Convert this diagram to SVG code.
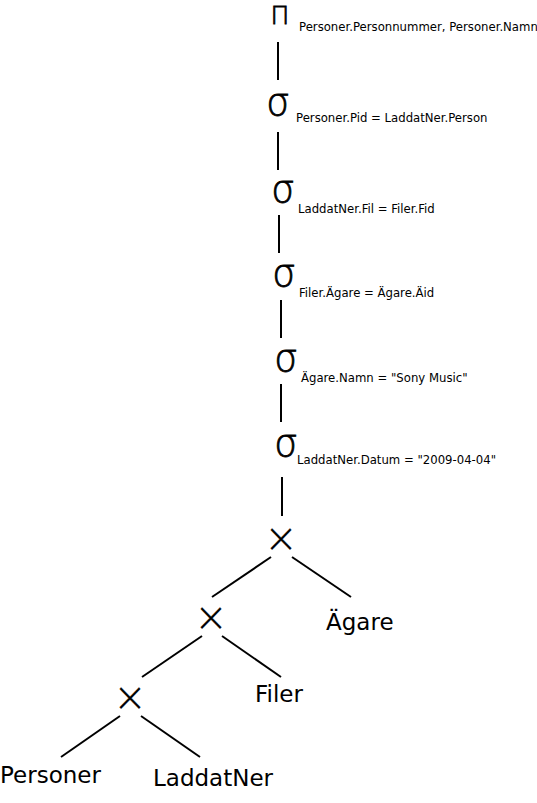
<svg xmlns="http://www.w3.org/2000/svg" width="537" height="803" viewBox="0 0 537 803">
<style>
.op{font-family:"DejaVu Sans",sans-serif;fill:#000;stroke:#000;stroke-width:0.8;text-anchor:middle;font-weight:200}
.sig{font-size:37px}
.pi{font-size:25px}
.x{font-size:40px;stroke-width:0.2}
.lbl{font-family:"DejaVu Sans",sans-serif;font-size:11.7px;fill:#000}
.rel{font-family:"DejaVu Sans",sans-serif;font-size:23px;fill:#000}
.c line{stroke:#000;stroke-width:2;fill:none}
</style>
<rect width="537" height="803" fill="#fff"/>
<g class="c" id="connectors">
<line x1="278" y1="42" x2="278" y2="80"/>
<line x1="278" y1="132" x2="278" y2="170"/>
<line x1="279" y1="215" x2="279" y2="253"/>
<line x1="281" y1="300" x2="281" y2="338"/>
<line x1="281" y1="384" x2="281" y2="422"/>
<line x1="282" y1="477" x2="282" y2="516"/>
<line x1="271" y1="557" x2="212" y2="597"/>
<line x1="292" y1="557" x2="351" y2="597"/>
<line x1="202" y1="636" x2="142" y2="677"/>
<line x1="222" y1="636" x2="281" y2="677"/>
<line x1="120" y1="716" x2="61" y2="757"/>
<line x1="141" y1="716" x2="200" y2="757"/>
</g>
<g id="pi"><text class="op pi" x="280" y="23.5">Π</text><text class="lbl" x="299" y="31">Personer.Personnummer, Personer.Namn</text></g>
<g id="sigma1"><text class="op sig" x="278" y="115">σ</text><text class="lbl" x="296" y="122">Personer.Pid = LaddatNer.Person</text></g>
<g id="sigma2"><text class="op sig" x="283" y="202">σ</text><text class="lbl" x="298" y="213">LaddatNer.Fil = Filer.Fid</text></g>
<g id="sigma3"><text class="op sig" x="284" y="286">σ</text><text class="lbl" x="299" y="297">Filer.Ägare = Ägare.Äid</text></g>
<g id="sigma4"><text class="op sig" x="286" y="371">σ</text><text class="lbl" x="301" y="382">Ägare.Namn = "Sony Music"</text></g>
<g id="sigma5"><text class="op sig" x="286" y="456">σ</text><text class="lbl" x="297" y="464">LaddatNer.Datum = "2009-04-04"</text></g>
<g id="join1"><text class="op x" x="281" y="552">×</text></g>
<g id="join2"><text class="op x" x="211" y="631">×</text></g>
<g id="join3"><text class="op x" x="130" y="711">×</text></g>
<g id="agare"><text class="rel" x="326" y="630">Ägare</text></g>
<g id="filer"><text class="rel" x="255" y="702">Filer</text></g>
<g id="personer"><text class="rel" x="0" y="783">Personer</text></g>
<g id="laddatner"><text class="rel" x="153" y="786">LaddatNer</text></g>
</svg>
